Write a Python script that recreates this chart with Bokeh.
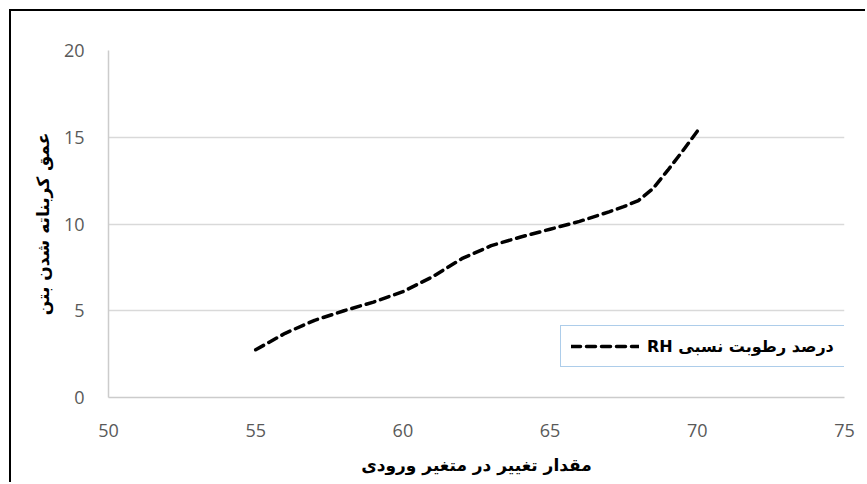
from bokeh.plotting import figure
from bokeh.models import FixedTicker, Legend, LegendItem, Range1d
from bokeh.embed import file_html
from bokeh.resources import INLINE

# data
x_values = [55, 56, 57, 58, 59, 60, 61, 62, 63, 64, 65, 66, 67, 67.5, 68, 68.5, 69, 69.5, 70]
rh_depth = [2.75, 3.7, 4.45, 5.0, 5.5, 6.1, 6.95, 8.0, 8.75, 9.25, 9.7, 10.15, 10.7, 11.0, 11.35, 12.05, 13.1, 14.2, 15.35]
x_ticks = [50, 55, 60, 65, 70, 75]
y_ticks = [0, 5, 10, 15, 20]
series_label = "RH درصد رطوبت نسبی"
x_title = "مقدار تغییر در متغیر ورودی"
y_title = "عمق کربناته شدن بتن"

TICK_FONT = "Open Sans"
TEXT_FONT = "DejaVu Sans"

p = figure(width=856, height=473, output_backend="svg", toolbar_location=None,
           x_range=Range1d(50, 75), y_range=Range1d(0, 20),
           min_border_left=97, min_border_right=23, min_border_top=39, min_border_bottom=87)
p.styles = {"border-top": "2px solid black", "border-left": "2px solid black",
            "margin-left": "9px", "margin-top": "9px"}

p.outline_line_color = None
p.background_fill_color = "white"
p.border_fill_color = "white"

p.xgrid.grid_line_color = None
p.ygrid.grid_line_color = "#d9d9d9"
p.ygrid.grid_line_width = 1.5

for ax in (p.xaxis[0], p.yaxis[0]):
    ax.axis_line_color = "#cccccc"
    ax.axis_line_width = 1.5
    ax.major_tick_line_color = None
    ax.minor_tick_line_color = None
    ax.major_label_text_color = "#595959"
    ax.major_label_text_font = TICK_FONT
    ax.major_label_text_font_size = "18px"
    ax.axis_label_text_font = TEXT_FONT
    ax.axis_label_text_font_style = "bold"
    ax.axis_label_text_font_size = "17px"
    ax.axis_label_text_color = "black"

p.xaxis.ticker = FixedTicker(ticks=x_ticks)
p.yaxis.ticker = FixedTicker(ticks=y_ticks)
p.xaxis.major_label_standoff = 20
p.yaxis.major_label_standoff = 18
p.xaxis.axis_label = x_title
p.yaxis.axis_label = y_title
p.xaxis.axis_label_standoff = 15
p.yaxis.axis_label_standoff = 8

line = p.line(x_values, rh_depth, line_color="black", line_width=3.5,
              line_dash="9 6", line_cap="round")

legend = Legend(items=[LegendItem(label=series_label, renderers=[line])],
                location=(452, 30))
legend.border_line_color = "#5b9bd5"
legend.border_line_width = 1.5
legend.background_fill_color = "white"
legend.background_fill_alpha = 1
legend.label_text_font = TEXT_FONT
legend.label_text_font_style = "bold"
legend.label_text_font_size = "16px"
legend.label_text_color = "black"
legend.glyph_width = 68
legend.glyph_height = 20
legend.label_standoff = 8
legend.padding = 10
legend.margin = 0
p.add_layout(legend, "center")

open("out.html", "w").write(file_html(p, INLINE))
